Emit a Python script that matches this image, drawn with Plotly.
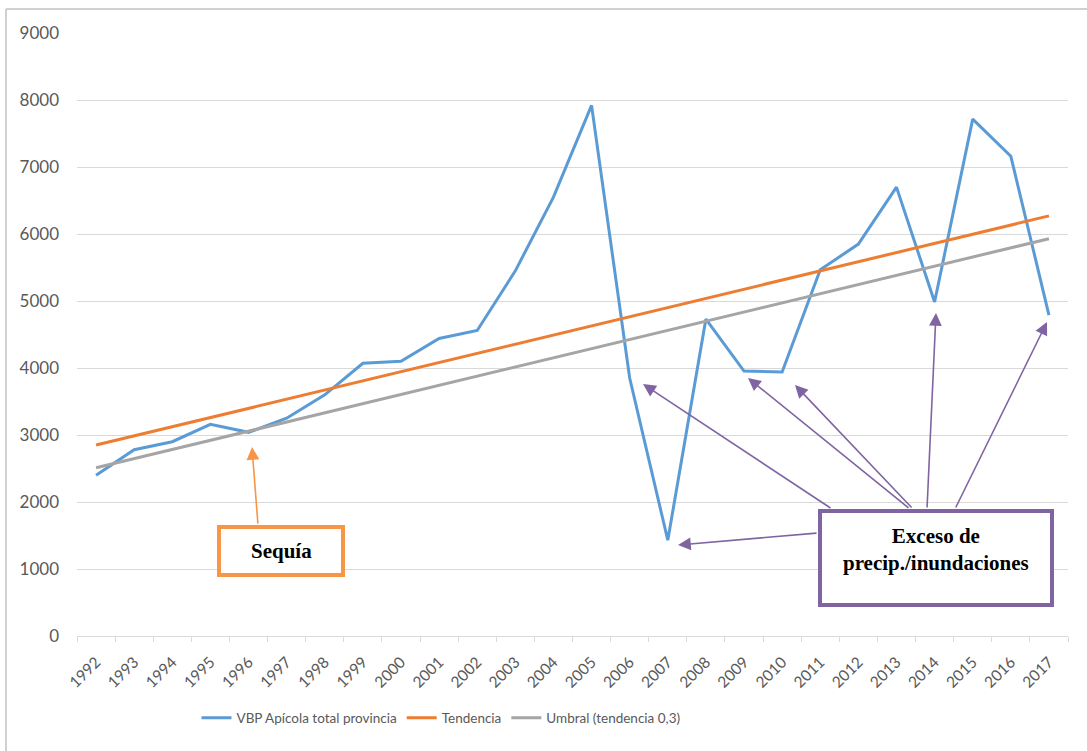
import plotly.graph_objects as go

years = [str(y) for y in range(1992, 2018)]
vbp = [2400, 2780, 2900, 3160, 3040, 3250, 3600, 4070, 4100, 4440, 4560, 5450, 6550,
       7920, 3850, 1430, 4730, 3955, 3940, 5465, 5850, 6700, 4985, 7715, 7160, 4790]
tendencia = [2850, 2987, 3124, 3260, 3397, 3534, 3671, 3808, 3944, 4081, 4218, 4355, 4492,
             4628, 4765, 4902, 5039, 5176, 5312, 5449, 5586, 5723, 5860, 5996, 6133, 6270]
umbral = [2510, 2647, 2784, 2920, 3057, 3194, 3331, 3468, 3604, 3741, 3878, 4015, 4152,
          4288, 4425, 4562, 4699, 4836, 4972, 5109, 5246, 5383, 5520, 5656, 5793, 5930]

names = ["VBP Apícola total provincia", "Tendencia", "Umbral (tendencia 0,3)"]
colors = ["#5B9BD5", "#ED7D31", "#A5A5A5"]

# plot area in pixels
L, R, T, B = 77, 1068, 33, 636
W, H = R - L, B - T


def px(x):
    return (x - L) / W


def py(y):
    return (B - y) / H


fig = go.Figure()
for name, vals, c in zip(names, [vbp, tendencia, umbral], colors):
    fig.add_trace(go.Scatter(x=years, y=vals, mode="lines", name=name,
                             line=dict(color=c, width=3)))

font_main = "Lato, 'Open Sans', sans-serif"
serif = "'Liberation Serif', 'Times New Roman', serif"
purple = "#8064A2"
orange = "#F79646"

shapes = [
    # outer chart frame
    dict(type="line", xref="paper", yref="paper", x0=px(6), x1=px(1100), y0=py(9), y1=py(9),
         line=dict(color="#D0D0D0", width=2)),
    dict(type="line", xref="paper", yref="paper", x0=px(6), x1=px(6), y0=py(9), y1=py(760),
         line=dict(color="#D0D0D0", width=2)),
    # Sequía box
    dict(type="rect", xref="paper", yref="paper", x0=px(219), x1=px(343), y0=py(527), y1=py(575),
         line=dict(color=orange, width=4), fillcolor="white", layer="above"),
    # Exceso box
    dict(type="rect", xref="paper", yref="paper", x0=px(820), x1=px(1052), y0=py(511), y1=py(605),
         line=dict(color=purple, width=4), fillcolor="white", layer="above"),
]

annotations = []


def arrow(tip, tail, color):
    annotations.append(dict(
        x=px(tip[0]), y=py(tip[1]), xref="paper", yref="paper",
        ax=tail[0] - tip[0], ay=tail[1] - tip[1], axref="pixel", ayref="pixel",
        text="", showarrow=True, arrowhead=2, arrowsize=1.6, arrowwidth=1.6,
        arrowcolor=color, standoff=0, startstandoff=0))


arrow((252, 447), (258, 525), orange)
arrow((643, 384), (832, 509), purple)
arrow((748, 378), (910, 509), purple)
arrow((795, 385), (913, 509), purple)
arrow((678, 545), (818, 533), purple)
arrow((936, 313), (927, 509), purple)
arrow((1047, 322), (955, 509), purple)

annotations.append(dict(x=px(281), y=py(551), xref="paper", yref="paper", showarrow=False,
                        text="<b>Sequía</b>", font=dict(family=serif, size=21, color="black"),
                        xanchor="center", yanchor="middle"))
annotations.append(dict(x=px(936), y=py(549), xref="paper", yref="paper", showarrow=False,
                        text="<b>Exceso de<br>precip./inundaciones</b>",
                        font=dict(family=serif, size=21, color="black"),
                        xanchor="center", yanchor="middle", align="center"))

fig.update_layout(
    width=1087, height=751,
    margin=dict(l=L, r=1087 - R, t=T, b=751 - B),
    paper_bgcolor="white", plot_bgcolor="white",
    font=dict(family=font_main, color="#595959"),
    showlegend=True,
    legend=dict(orientation="h", x=px(441), xanchor="center", y=py(718), yanchor="middle",
                font=dict(size=13.5, color="#595959"), itemwidth=30, tracegroupgap=0),
    shapes=shapes,
    annotations=annotations,
)
fig.update_xaxes(type="category", range=[-0.5, 25.5], showgrid=False,
                 showline=True, linecolor="#D9D9D9", linewidth=1,
                 ticks="outside", ticklen=5, tickcolor="#D9D9D9", tickson="boundaries",
                 tickangle=-45, ticklabelstandoff=10, tickfont=dict(size=15.5, color="#595959"))
fig.update_yaxes(range=[0, 9000], dtick=1000, showgrid=True, gridcolor="#D9D9D9", gridwidth=1,
                 zeroline=False, showline=False, ticks="", ticklabelstandoff=17,
                 tickfont=dict(size=17, color="#595959"))

fig.write_html("out.html", config={"displayModeBar": False},
               post_script="document.body.style.margin='0px';")
